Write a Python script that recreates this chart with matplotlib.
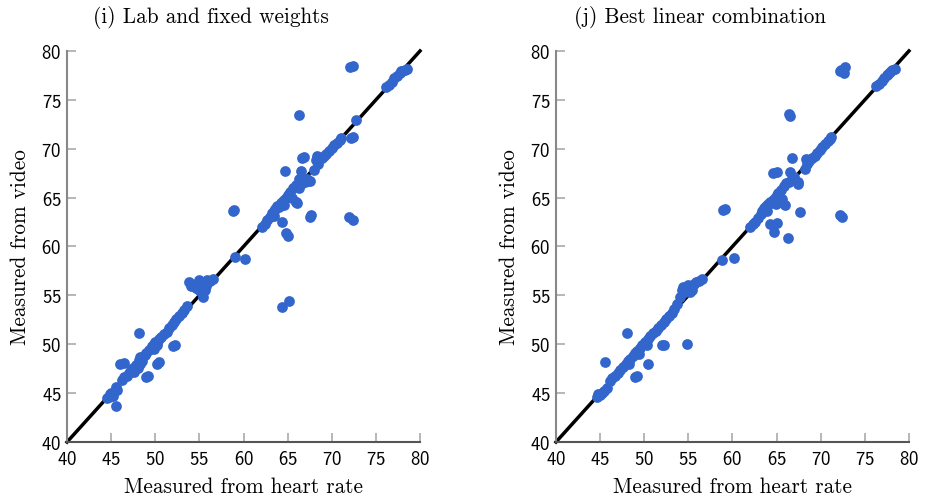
import matplotlib.pyplot as plt

# panel (i): lab and fixed weights
x_lab = [44.5, 44.8, 45.0, 45.3, 45.6, 45.2, 45.5, 44.9, 45.7,
         46.2, 46.5, 46.8, 47.0, 47.3, 47.5, 47.8, 48.0, 48.2, 48.3, 48.5, 48.8, 49.0, 49.3,
         49.6, 49.8, 50.0, 50.2, 50.4, 50.7, 51.0, 51.3, 51.6, 51.9, 52.1, 52.4, 52.7, 53.0,
         53.3, 53.6, 47.6, 48.0, 48.3, 49.9, 50.2,
         53.8, 54.0, 54.3, 54.6, 55.0, 55.2, 55.4, 55.3, 55.6, 55.8, 55.9, 56.2, 56.5, 55.0, 54.8,
         62.1, 62.4, 62.7, 63.0, 63.2, 63.4, 63.6, 63.8, 64.0, 64.2, 64.4, 64.6, 64.8, 65.0,
         65.3, 65.6, 65.8, 66.0, 66.3, 65.5, 64.6, 63.5, 65.9, 66.1,
         66.5, 66.8, 67.0, 67.2, 67.5, 66.3,
         68.0, 68.2, 68.4, 68.6, 68.9, 69.1, 69.4, 69.7, 70.0, 70.3, 70.6, 70.9, 71.1, 68.3,
         76.2, 76.5, 76.8, 77.1, 77.4, 77.7, 78.0, 78.3, 78.5, 77.8,
         72.1, 72.4, 66.3, 72.7, 72.2, 72.4, 66.8, 66.6, 64.7, 66.5, 67.3, 58.8, 58.9,
         67.6, 67.5, 71.9, 72.4, 64.4, 64.8, 65.0, 59.0, 60.2, 64.4, 65.2, 48.1,
         46.0, 46.4, 50.2, 50.4, 48.95, 49.2, 52.2, 52.0, 45.55, 66.0]
y_lab = [44.5, 44.6, 45.0, 45.1, 45.4, 44.7, 45.6, 44.9, 45.3,
         46.3, 46.6, 46.8, 47.1, 47.4, 47.6, 47.9, 48.0, 48.4, 48.7, 48.3, 48.9, 49.1, 49.4,
         49.8, 50.0, 50.2, 50.1, 50.5, 50.7, 51.0, 51.3, 51.7, 52.0, 52.3, 52.6, 52.9, 53.2,
         53.5, 53.9, 47.2, 47.6, 48.0, 49.5, 49.9,
         56.4, 56.0, 56.1, 55.8, 56.6, 56.2, 54.8, 55.2, 55.5, 56.0, 56.6, 56.5, 56.7, 55.6, 56.3,
         62.0, 62.3, 62.7, 63.0, 63.4, 63.6, 63.8, 64.1, 64.0, 64.4, 64.6, 64.8, 65.0, 65.3,
         65.6, 66.0, 66.1, 66.3, 66.0, 65.0, 64.2, 63.1, 64.6, 64.4,
         66.4, 66.8, 66.6, 66.9, 66.7, 66.9,
         67.8, 68.8, 68.4, 68.9, 69.0, 69.3, 69.5, 69.8, 70.1, 70.4, 70.6, 70.9, 71.1, 69.3,
         76.3, 76.5, 76.8, 77.2, 77.4, 77.7, 77.9, 78.1, 78.2, 78.0,
         78.4, 78.5, 73.5, 72.9, 71.1, 71.2, 69.2, 69.0, 67.7, 67.7, 66.7, 63.6, 63.7,
         63.2, 63.0, 63.0, 62.7, 62.5, 61.4, 61.1, 58.9, 58.7, 53.8, 54.4, 51.1,
         48.0, 48.1, 48.0, 48.2, 46.7, 46.8, 49.9, 49.8, 43.7, 64.5]

# panel (j): best linear combination
x_best = [44.6, 45.0, 45.4, 45.8, 44.8, 45.2,
          46.1, 46.4, 46.7, 47.0, 47.3, 47.6, 47.9, 48.2, 48.4, 48.7, 49.0, 49.2, 49.5,
          49.8, 50.1, 50.4, 50.7, 51.0, 51.3, 51.6, 51.9, 52.2, 52.5, 52.8, 53.1, 53.4,
          53.7, 54.0, 48.3, 49.4, 50.3,
          54.3, 54.6, 55.0, 55.3, 55.6, 55.9, 56.2, 56.6, 55.2, 54.4, 55.4,
          62.0, 62.3, 62.6, 62.9, 63.2, 63.4, 63.6, 63.8, 64.0, 64.2, 64.4, 64.6, 64.8,
          65.0, 65.2, 65.5, 65.8, 66.1, 66.4, 66.7, 67.0, 67.4, 64.9, 65.3, 63.9, 65.6,
          68.2, 68.4, 68.7, 69.0, 69.3, 69.6, 69.9, 70.2, 70.5, 70.8, 71.0, 71.2, 68.3,
          76.3, 76.6, 76.9, 77.2, 77.5, 77.8, 78.1, 78.4, 77.6,
          72.3, 72.8, 72.6, 72.2, 66.4, 66.5, 66.8, 64.6, 65.1, 66.5, 58.9, 59.1, 67.6,
          72.4, 72.2, 64.3, 65.0, 64.7, 66.3, 58.85, 60.2, 48.1, 54.8, 52.2, 52.0,
          45.5, 50.4, 48.95, 49.2, 65.9, 67.4]
y_best = [44.6, 44.8, 45.2, 45.5, 44.9, 45.0,
          46.2, 46.5, 46.8, 47.1, 47.4, 47.7, 48.0, 48.3, 48.5, 48.8, 49.1, 49.3, 49.6,
          49.9, 50.2, 50.5, 50.8, 51.1, 51.4, 51.7, 52.0, 52.3, 52.6, 52.9, 53.2, 53.6,
          54.1, 54.8, 48.0, 49.0, 49.9,
          55.6, 55.3, 56.1, 55.8, 56.2, 56.4, 56.5, 56.7, 55.3, 55.9, 55.5,
          62.0, 62.3, 62.5, 62.9, 63.3, 63.6, 63.9, 64.1, 64.3, 64.5, 64.4, 64.8, 65.0,
          65.3, 65.5, 65.8, 66.2, 66.5, 66.6, 66.9, 67.1, 66.6, 64.3, 64.7, 63.6, 64.9,
          67.9, 68.4, 68.7, 69.0, 69.3, 69.6, 69.9, 70.2, 70.5, 70.8, 71.0, 71.2, 68.9,
          76.4, 76.6, 76.9, 77.2, 77.5, 77.8, 78.1, 78.2, 77.6,
          78.1, 78.4, 77.7, 77.9, 73.55, 73.3, 69.1, 67.5, 67.65, 67.65, 63.7, 63.8, 63.5,
          63.0, 63.2, 62.3, 62.4, 61.5, 60.9, 58.65, 58.8, 51.1, 50.0, 49.95, 49.9,
          48.2, 48.0, 46.7, 46.8, 64.2, 66.4]

titles = ['(i) Lab and fixed weights', '(j) Best linear combination']
ticks = [40, 45, 50, 55, 60, 65, 70, 75, 80]

plt.rcParams['axes.formatter.use_mathtext'] = True

fig = plt.figure(figsize=(9.26, 5.02), dpi=100)
ax1 = fig.add_axes([0.0724, 0.1175, 0.3812, 0.779])
ax2 = fig.add_axes([0.6004, 0.1175, 0.3812, 0.779])

for ax, xs, ys, title in [(ax1, x_lab, y_lab, titles[0]), (ax2, x_best, y_best, titles[1])]:
    ax.plot([40, 80], [40, 80], color='black', lw=2.5, zorder=2, clip_on=False)
    ax.scatter(xs, ys, s=60, color='#3366cc', linewidths=0, zorder=3, clip_on=False)
    ax.set_xlim(40, 80)
    ax.set_ylim(40, 80)
    ax.set_xticks(ticks)
    ax.set_yticks(ticks)
    for side in ['top', 'right']:
        ax.spines[side].set_visible(False)
    ax.spines['left'].set_color('#888888')
    ax.spines['bottom'].set_color('#555555')
    for side in ['left', 'bottom']:
        ax.spines[side].set_linewidth(1.5)
    ax.tick_params(direction='in', length=6.5, width=1.2, color='#aaaaaa', labelsize=13.5)
    ax.tick_params(axis='x', pad=5.5)
    ax.tick_params(axis='y', pad=4)
    for lab in ax.get_xticklabels() + ax.get_yticklabels():
        lab.set_fontfamily('cmss10')
    ax.set_xlabel('Measured from heart rate', family='cmr10', fontsize=15.3, labelpad=6)
    ax.set_ylabel('Measured from video', family='cmr10', fontsize=15.3, labelpad=8)
    ax.text(0.407, 1.088, title, transform=ax.transAxes, ha='center', va='center',
            family='cmr10', fontsize=15.3)

fig.savefig('out.png', dpi=100)
